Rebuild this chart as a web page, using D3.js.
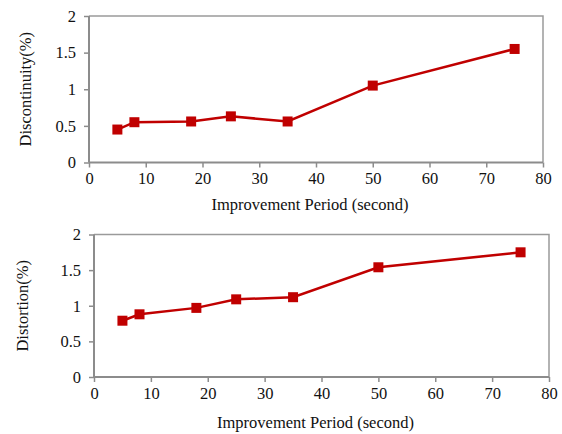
<!DOCTYPE html>
<html><head><meta charset="utf-8">
<script src="https://cdn.jsdelivr.net/npm/d3@7"></script>
<style>
html,body{margin:0;padding:0;background:#fff;}
svg{display:block;}
</style></head>
<body>
<svg id="chart" width="562" height="434"></svg>
<script>
const periods = [5, 8, 18, 25, 35, 50, 75];
const discontinuity = [0.45, 0.55, 0.56, 0.63, 0.56, 1.05, 1.55];
const distortion = [0.79, 0.88, 0.97, 1.09, 1.12, 1.54, 1.75];
const xTicks = [0, 10, 20, 30, 40, 50, 60, 70, 80];
const yTicks = [0, 0.5, 1, 1.5, 2];
const xTitle = "Improvement Period (second)";

const svg = d3.select("#chart");
const font = "'Liberation Serif', 'Times New Roman', serif";
const color = "#c00000";

function panel(cfg) {
  const x = d3.scaleLinear().domain([0, 80]).range([cfg.x0, cfg.x1]);
  const y = d3.scaleLinear().domain([0, 2]).range([cfg.y0, cfg.y1]);
  const g = svg.append("g");
  g.append("path")
    .attr("d", `M${cfg.x0},${cfg.y1}H${cfg.x1}V${cfg.y0}`)
    .attr("fill", "none").attr("stroke", "#9a9a9a").attr("stroke-width", 1.5);
  const xa = g.append("g").attr("transform", `translate(0,${cfg.y0})`)
    .call(d3.axisBottom(x).tickValues(xTicks).tickSize(5).tickPadding(5).tickFormat(d3.format("d")));
  const ya = g.append("g").attr("transform", `translate(${cfg.x0},0)`)
    .call(d3.axisLeft(y).tickValues(yTicks).tickSize(5).tickPadding(8).tickFormat(d => d));
  [xa, ya].forEach(a => {
    a.select(".domain").attr("stroke", "#8c8c8c").attr("stroke-width", 2);
    a.selectAll(".tick line").attr("stroke", "#8c8c8c").attr("stroke-width", 1.5);
    a.selectAll("text").attr("font-family", font).attr("font-size", 16.5).attr("fill", "#111");
  });
  ya.select(".domain").attr("d", `M0,${cfg.y0}V${cfg.y1}`);
  xa.select(".domain").attr("d", `M${cfg.x0},0H${cfg.x1}`);

  const line = d3.line().x((d, i) => x(periods[i])).y(d => y(d));
  g.append("path").datum(cfg.values).attr("d", line)
    .attr("fill", "none").attr("stroke", color).attr("stroke-width", 2.5);
  g.selectAll("rect.m").data(cfg.values).enter().append("rect")
    .attr("x", (d, i) => x(periods[i]) - 5).attr("y", d => y(d) - 5)
    .attr("width", 10).attr("height", 10).attr("fill", color);

  g.append("text").attr("x", (cfg.x0 + cfg.x1) / 2 - 6).attr("y", cfg.titleY)
    .attr("text-anchor", "middle").attr("font-family", font).attr("font-size", 16.5)
    .attr("fill", "#111").text(xTitle);
  g.append("text").attr("transform", `translate(${cfg.yTitleX},${(cfg.y0 + cfg.y1) / 2}) rotate(-90)`)
    .attr("text-anchor", "middle").attr("dy", "0.35em").attr("font-family", font).attr("font-size", 16.5)
    .attr("fill", "#111").text(cfg.yTitle);
}

panel({x0: 89, x1: 543, y0: 162.5, y1: 16, values: discontinuity, yTitle: "Discontinuity(%)", yTitleX: 25, titleY: 210});
panel({x0: 94, x1: 549, y0: 377, y1: 234.5, values: distortion, yTitle: "Distortion(%)", yTitleX: 22, titleY: 428});
</script>
</body></html>
